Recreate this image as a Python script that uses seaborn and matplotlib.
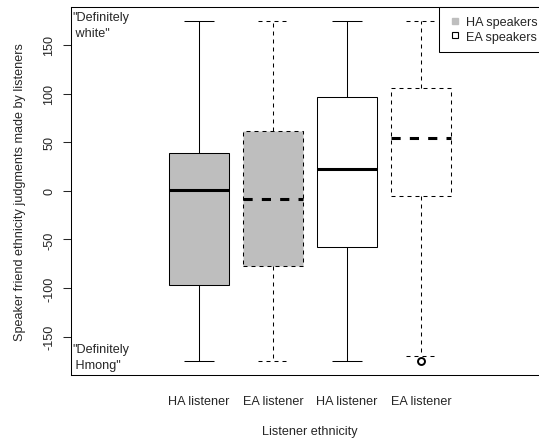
import numpy as np
import pandas as pd
import matplotlib
matplotlib.use("Agg")
import matplotlib.pyplot as plt
from matplotlib.lines import Line2D
import seaborn as sns

# ---- data ----
group_ids = ["HA-HA", "EA-HA", "HA-EA", "EA-EA"]
listener_labels = ["HA listener", "EA listener", "HA listener", "EA listener"]
speaker_groups = ["HA speakers", "HA speakers", "EA speakers", "EA speakers"]
whisker_low = [-175, -175, -175, -169.4]
q1_values = [-96.7, -77.6, -58.3, -5.5]
median_values = [1.3, -8.2, 22.9, 54.5]
q3_values = [39.1, 61.3, 96.3, 106.0]
whisker_high = [175, 175, 175, 175]
outlier_group = ["EA-EA"]
outlier_value = [-175]
dashed_groups = ["EA-HA", "EA-EA"]
y_ticks = [-150, -100, -50, 0, 50, 100, 150]

# long table: five-number summary per box
rows = []
for g, sp, lo, a, m, b, hi in zip(group_ids, speaker_groups, whisker_low,
                                  q1_values, median_values, q3_values, whisker_high):
    for v in (lo, a, m, b, hi):
        rows.append({"group": g, "speaker": sp, "value": v})
df = pd.DataFrame(rows)
out_df = pd.DataFrame({"group": outlier_group, "value": outlier_value})

sns.set_style("white")
plt.rcParams["font.family"] = ["Liberation Sans", "DejaVu Sans"]
FS = 9.1

fig = plt.figure(figsize=(5.39, 4.39), dpi=100)
W, H = 539, 439
AX_L, AX_R, AX_T, AX_B = 71, 548, 8, 375.6
ax = fig.add_axes([AX_L / W, 1 - AX_B / H, (AX_R - AX_L) / W, (AX_B - AX_T) / H])

palette = {"HA speakers": "#BEBEBE", "EA speakers": "white"}
solid = (0, ())
dash_thin = (0, (3.84, 3.84))
dash_thick = (0, (3.0, 3.0))

for subset, ls, mls in [
    (df[~df["group"].isin(dashed_groups)], solid, solid),
    (df[df["group"].isin(dashed_groups)], dash_thin, dash_thick),
]:
    sns.boxplot(
        data=subset, x="group", y="value", hue="speaker", order=group_ids,
        palette=palette, dodge=False, legend=False, width=0.8,
        whis=(0, 100), linecolor="black", linewidth=0.75, showfliers=False,
        boxprops={"linestyle": ls},
        whiskerprops={"linestyle": ls},
        capprops={"linestyle": ls},
        medianprops={"linestyle": mls, "linewidth": 2.2},
        ax=ax,
    )

sns.stripplot(data=out_df, x="group", y="value", order=group_ids, jitter=False,
              color="white", edgecolor="black", linewidth=1.4, size=5.0,
              ax=ax, zorder=5)

ax.set_xlim(-128 / 74, (AX_R - 199) / 74)
ax.set_ylim(-189, 189)
ax.set_yticks(y_ticks)
ax.set_yticklabels([str(t) for t in y_ticks], rotation=90, va="center", fontsize=FS)
ax.set_xticks(range(len(group_ids)))
ax.set_xticklabels(listener_labels, fontsize=FS)
ax.tick_params(axis="x", length=0, pad=14.5)
ax.tick_params(axis="y", direction="out", length=5.5, width=0.75, pad=6, left=True)
ax.set_xlabel("Listener ethnicity", fontsize=FS, labelpad=13.5)
ax.set_ylabel("Speaker friend ethnicity judgments made by listeners", fontsize=FS, labelpad=12)

for s in ax.spines.values():
    s.set_visible(True)
    s.set_color("black")
    s.set_linewidth(0.75)

ax.text(0.003, 0.988, '"Definitely\n white"', transform=ax.transAxes,
        ha="left", va="top", fontsize=FS, linespacing=1.4)
ax.text(0.003, 0.01, '"Definitely\n Hmong"', transform=ax.transAxes,
        ha="left", va="bottom", fontsize=FS, linespacing=1.4)

handles = [
    Line2D([], [], ls="", marker="s", ms=4.5, mfc="#BEBEBE", mec="#BEBEBE"),
    Line2D([], [], ls="", marker="s", ms=4.5, mfc="white", mec="black", mew=0.8),
]
leg = ax.legend(handles, ["HA speakers", "EA speakers"], loc="upper right",
                bbox_to_anchor=((547 - AX_L) / (AX_R - AX_L), 1), borderaxespad=0,
                fontsize=FS, frameon=True, fancybox=False, framealpha=1,
                edgecolor="black", handlelength=0.95, handletextpad=0.45,
                borderpad=0.72, labelspacing=0.2)
leg.get_frame().set_linewidth(0.75)

fig.savefig("out.png", dpi=100)
